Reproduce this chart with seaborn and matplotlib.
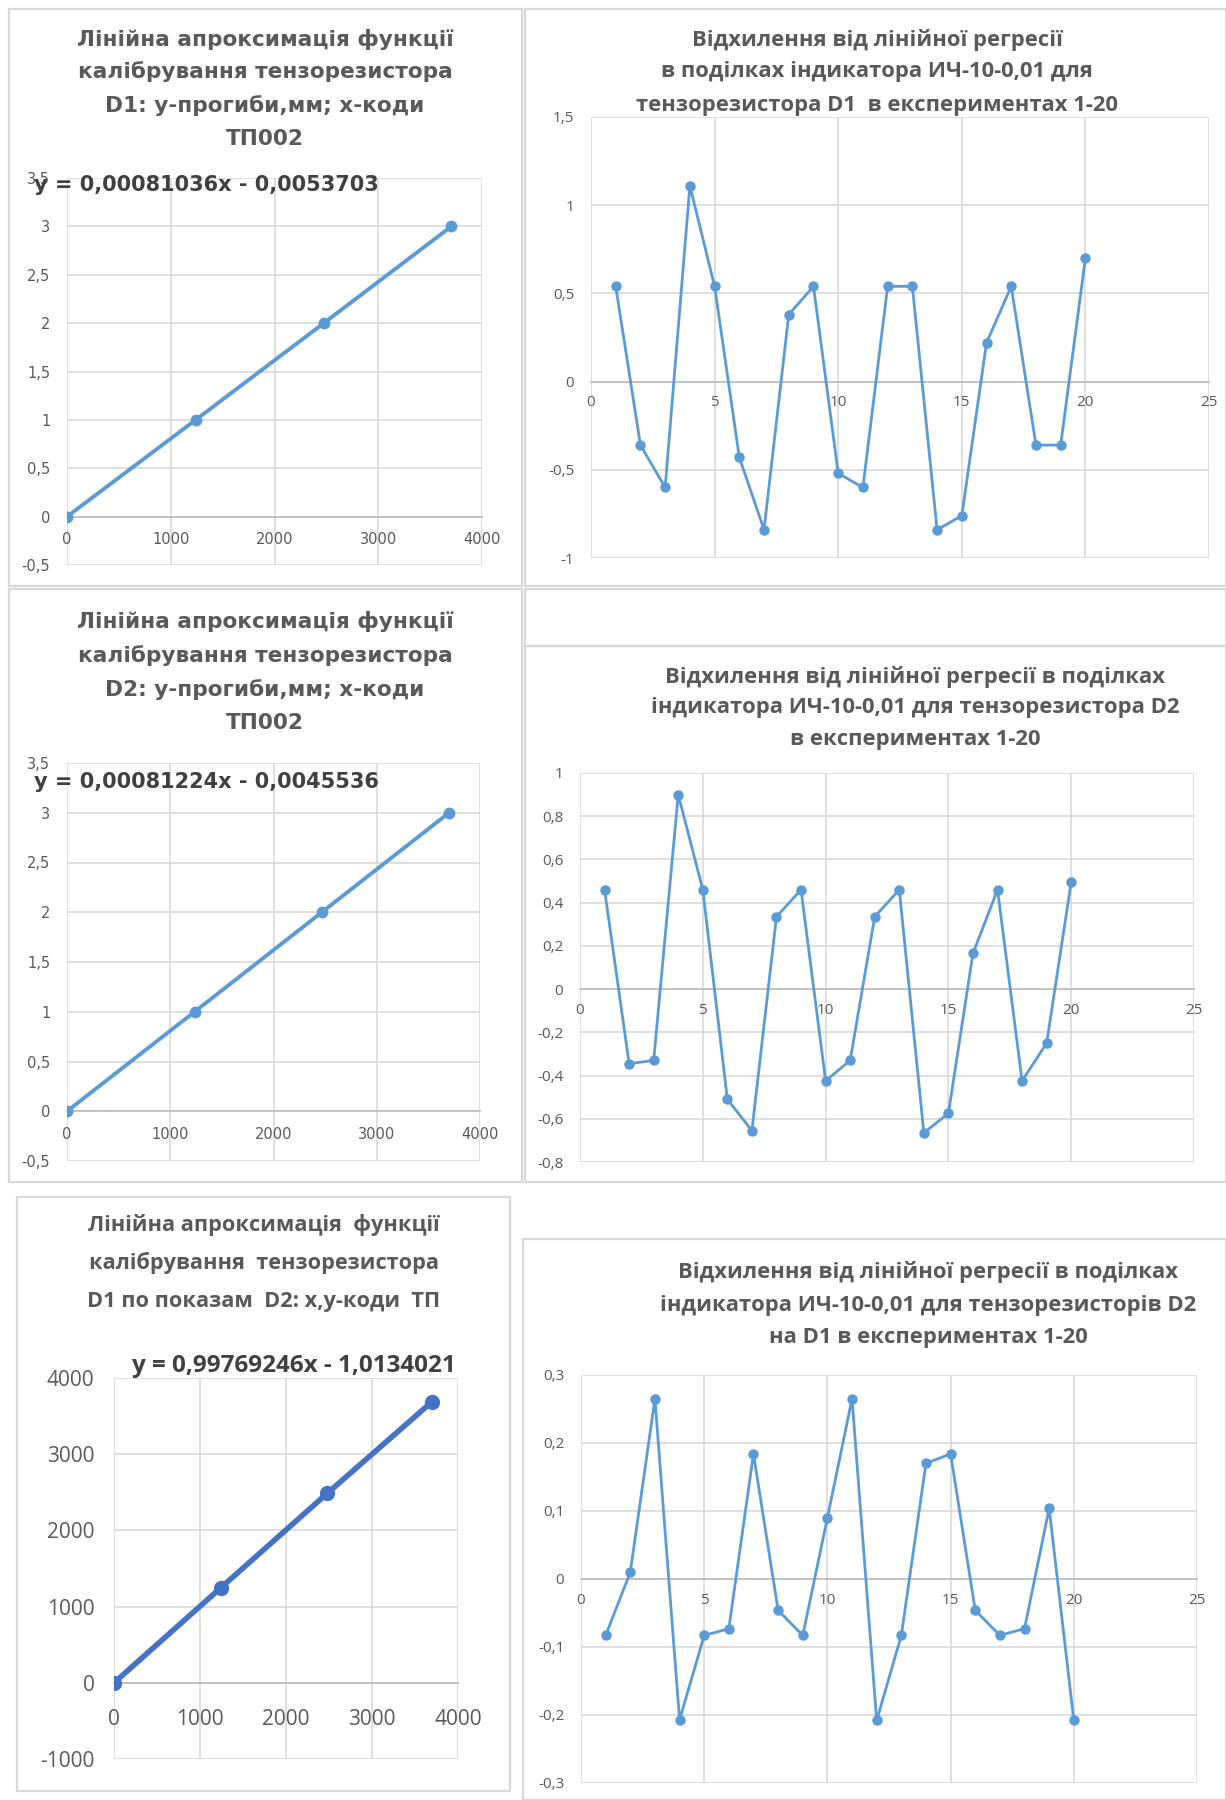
import matplotlib
matplotlib.use("Agg")
import matplotlib.pyplot as plt
import seaborn as sns
from matplotlib.patches import Rectangle

# ---------------- data ----------------
experiments = list(range(1, 21))
dev_d1 = [0.54, -0.36, -0.60, 1.11, 0.54, -0.43, -0.84, 0.38, 0.54, -0.52,
          -0.60, 0.54, 0.54, -0.84, -0.76, 0.22, 0.54, -0.36, -0.36, 0.70]
dev_d2 = [0.46, -0.345, -0.33, 0.90, 0.46, -0.51, -0.655, 0.335, 0.46, -0.425,
          -0.33, 0.335, 0.46, -0.665, -0.575, 0.165, 0.46, -0.425, -0.25, 0.495]
dev_d2_d1 = [-0.083, 0.010, 0.265, -0.207, -0.083, -0.073, 0.184, -0.046, -0.083, 0.090,
             0.265, -0.208, -0.083, 0.170, 0.184, -0.046, -0.083, -0.073, 0.104, -0.208]

codes_d1 = [0, 1240, 2475, 3705]
codes_d2 = [0, 1236, 2468, 3700]
deflection_mm = [0, 1, 2, 3]
bl_codes_d2 = [0, 1240, 2478, 3700]
bl_codes_d1 = [0, 1245, 2485, 3690]

title_tl = ["Лінійна апроксимація функції", "калібрування тензорезистора",
            "D1: y-прогиби,мм; x-коди", "ТП002"]
title_ml = ["Лінійна апроксимація функції", "калібрування тензорезистора",
            "D2: y-прогиби,мм; x-коди", "ТП002"]
title_bl = ["Лінійна апроксимація  функції", "калібрування  тензорезистора",
            "D1 по показам  D2: x,y-коди  ТП"]
title_tr = ["Відхилення від лінійної регресії", "в поділках індикатора ИЧ-10-0,01 для",
            "тензорезистора D1  в експериментах 1-20"]
title_mr = ["Відхилення від лінійної регресії в поділках",
            "індикатора ИЧ-10-0,01 для тензорезистора D2", "в експериментах 1-20"]
title_br = ["Відхилення від лінійної регресії в поділках",
            "індикатора ИЧ-10-0,01 для тензорезисторів D2", "на D1 в експериментах 1-20"]
eq_tl = "y = 0,00081036x - 0,0053703"
eq_ml = "y = 0,00081224x - 0,0045536"
eq_bl = "y = 0,99769246x - 1,0134021"

calib_xticks = [0, 1000, 2000, 3000, 4000]
calib_yticks = [-0.5, 0, 0.5, 1, 1.5, 2, 2.5, 3, 3.5]
bl_yticks = [-1000, 0, 1000, 2000, 3000, 4000]
dev_xticks = [0, 5, 10, 15, 20, 25]
tr_yticks = [-1, -0.5, 0, 0.5, 1, 1.5]
mr_yticks = [-0.8, -0.6, -0.4, -0.2, 0, 0.2, 0.4, 0.6, 0.8, 1]
br_yticks = [-0.3, -0.2, -0.1, 0, 0.1, 0.2, 0.3]

# ---------------- style ----------------
sns.set_style("white")
plt.rcParams["font.family"] = ["DejaVu Sans"]

W, H = 1226, 1800
fig = plt.figure(figsize=(W / 100, H / 100), dpi=100)
fig.patch.set_facecolor("white")

LINE = "#5B9BD5"
LINE_BL = "#4472C4"
GRID = "#D9D9D9"
TXT = "#595959"
OPEN = ["Open Sans", "DejaVu Sans"]
DEJA = ["DejaVu Sans"]


def fmt(v):
    v = round(v, 4)
    if v == 0:
        return "0"
    s = ("%.4f" % v).rstrip("0").rstrip(".")
    return s.replace(".", ",")


def frame(x0, y0, x1, y1):
    fig.add_artist(Rectangle((x0 / W, 1 - y1 / H), (x1 - x0) / W, (y1 - y0) / H,
                             transform=fig.transFigure, fill=False,
                             edgecolor=GRID, lw=1.6))


def add_ax(x0, x1, ytop, ybot):
    return fig.add_axes([x0 / W, 1 - ybot / H, (x1 - x0) / W, (ybot - ytop) / H])


def style(ax, xt, yt, xlim, ylim, family, size, xpad, ypad):
    for s in ["top", "right", "left"]:
        ax.spines[s].set_visible(False)
    ax.spines["bottom"].set_position(("data", 0))
    ax.spines["bottom"].set_color("#BFBFBF")
    ax.spines["bottom"].set_linewidth(1.3)
    ax.spines["bottom"].set_zorder(1.5)
    ax.set_xlim(*xlim)
    ax.set_ylim(*ylim)
    ax.set_xticks(xt, [fmt(v) for v in xt], fontfamily=family, fontsize=size, color=TXT)
    ax.set_yticks(yt, [fmt(v) for v in yt], fontfamily=family, fontsize=size, color=TXT)
    ax.grid(True, color=GRID, lw=1.2)
    ax.set_axisbelow(True)
    ax.tick_params(axis="x", length=0, pad=xpad)
    ax.tick_params(axis="y", length=0, pad=ypad)
    ax.set_xlabel("")
    ax.set_ylabel("")
    ax.set_facecolor("none")


def title(lines, cx, ys, family, size, weight="bold"):
    for line, y in zip(lines, ys):
        fig.text(cx / W, 1 - y / H, line, ha="center", va="center", fontsize=size,
                 fontweight=weight, color=TXT, family=family)


# panel frames
frame(9, 9, 522, 586)
frame(525, 9, 1226, 586)
frame(9, 589, 522, 1182)
frame(525, 589, 1226, 646)
frame(525, 646, 1226, 1182)
frame(17, 1197, 510, 1791)
frame(523, 1239, 1226, 1800)

# ---- top-left ----
ax = add_ax(67, 482, 178, 565)
sns.lineplot(x=codes_d1, y=deflection_mm, ax=ax, color=LINE, lw=2.8, marker="o",
             markersize=8.5, markeredgewidth=0, estimator=None, sort=False)
style(ax, calib_xticks, calib_yticks, (0, 4000), (-0.5, 3.5), DEJA, 10.5, 11, 12)
title(title_tl, 265, [40, 72, 106, 139], DEJA, 15.6)
fig.text(34 / W, 1 - 185 / H, eq_tl, ha="left", va="center", fontsize=15,
         fontweight="bold", color="#404040", family=DEJA)

# ---- middle-left ----
ax = add_ax(67, 480, 763, 1161)
sns.lineplot(x=codes_d2, y=deflection_mm, ax=ax, color=LINE, lw=2.8, marker="o",
             markersize=8.5, markeredgewidth=0, estimator=None, sort=False)
style(ax, calib_xticks, calib_yticks, (0, 4000), (-0.5, 3.5), DEJA, 10.5, 11, 12)
title(title_ml, 265, [622, 656, 690, 723], DEJA, 15.6)
fig.text(34 / W, 1 - 782 / H, eq_ml, ha="left", va="center", fontsize=15,
         fontweight="bold", color="#404040", family=DEJA)

# ---- bottom-left ----
ax = add_ax(114, 458, 1378, 1759)
sns.lineplot(x=bl_codes_d2, y=bl_codes_d1, ax=ax, color=LINE_BL, lw=4.0, marker="o",
             markersize=11, markeredgewidth=0, estimator=None, sort=False)
style(ax, calib_xticks, bl_yticks, (0, 4000), (-1000, 4000), OPEN, 15, 19, 14)
title(title_bl, 264, [1225, 1263, 1302], OPEN, 15.7)
fig.text(132 / W, 1 - 1366 / H, eq_bl, ha="left", va="center", fontsize=17.5,
         fontweight="bold", color="#404040", family=OPEN)

# ---- top-right ----
ax = add_ax(591, 1209, 117, 558)
sns.lineplot(x=experiments, y=dev_d1, ax=ax, color=LINE, lw=2.0, marker="o",
             markersize=7.5, markeredgewidth=0, estimator=None, sort=False)
style(ax, dev_xticks, tr_yticks, (0, 25), (-1, 1.5), OPEN, 11, 10, 12)
title(title_tr, 877, [40, 72, 106], OPEN, 15.8)

# ---- middle-right ----
ax = add_ax(580, 1194, 773, 1162)
sns.lineplot(x=experiments, y=dev_d2, ax=ax, color=LINE, lw=2.0, marker="o",
             markersize=7.5, markeredgewidth=0, estimator=None, sort=False)
style(ax, dev_xticks, mr_yticks, (0, 25), (-0.8, 1.0), OPEN, 11, 10, 12)
title(title_mr, 915, [677, 708, 739], OPEN, 15.8)

# ---- bottom-right ----
ax = add_ax(581, 1197, 1375, 1783)
sns.lineplot(x=experiments, y=dev_d2_d1, ax=ax, color=LINE, lw=2.0, marker="o",
             markersize=7.5, markeredgewidth=0, estimator=None, sort=False)
style(ax, dev_xticks, br_yticks, (0, 25), (-0.3, 0.3), OPEN, 11, 10, 12)
title(title_br, 928, [1272, 1305, 1337], OPEN, 15.8)

fig.savefig("out.png", dpi=100, facecolor="white")
